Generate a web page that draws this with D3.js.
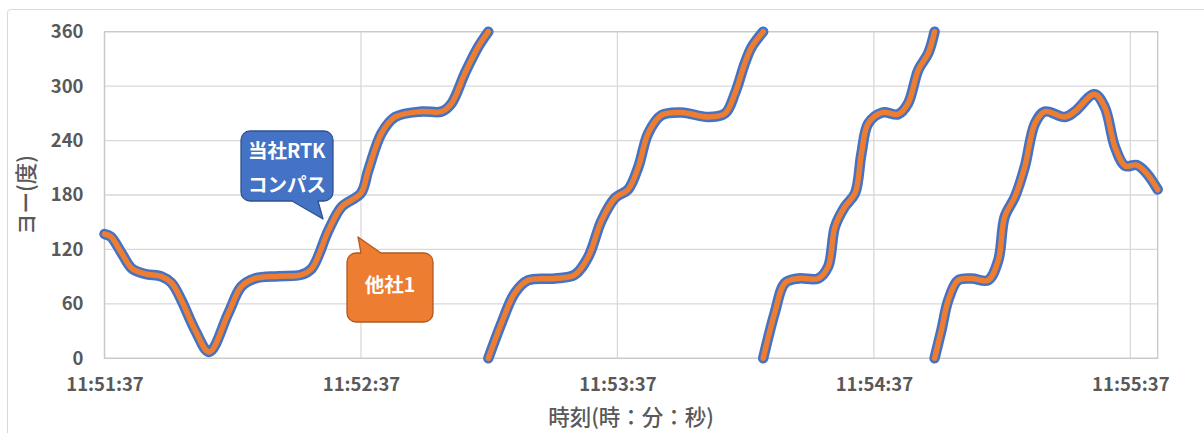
<!DOCTYPE html>
<html lang="ja">
<head>
<meta charset="utf-8">
<script src="https://cdn.jsdelivr.net/npm/d3@7"></script>
<style>
  html, body { margin: 0; padding: 0; background: #ffffff; }
  svg { display: block; }
  text { font-family: "Noto Sans CJK JP", "Noto Sans", sans-serif; }
</style>
</head>
<body>
<svg id="chart" width="1204" height="433"></svg>
<script>
// Elapsed seconds from 11:51:37; null marks the wrap from 360° back to 0°
const seconds = [
  0, 1.5, 4, 6.4, 9.5, 13.4, 15.7, 18, 21.2, 24.5, 29, 32, 35.2, 40.7, 46, 48.5,
  52.4, 55.5, 60, 61.7, 64.8, 68, 74.2, 78.9, 81.2, 84.3, 87.4, 89.8,
  89.8,
  89.8, 92.9, 96, 99.1, 105.4, 110, 113.2, 116.3, 119.5, 122.5, 124.9, 127.2,
  130.3, 135, 141.2, 145.2, 147.5, 149.8, 151.4, 154.1,
  154.1,
  154.1, 156.8, 159.2, 162.3, 167, 169.3, 170.9, 173.2, 175.6, 177.1, 178.7,
  182, 185.7, 188, 190.4, 192.7, 194.2,
  194.2,
  194.2, 195.8, 197.4, 199.7, 202.9, 206.7, 209.1, 210.6, 213, 215.3, 217.7,
  220, 224.7, 227, 231.6, 234, 236.4, 238.8, 241.5, 243.8, 246.4
];

// Yaw (degrees) — in-house RTK compass
const yawRtk = [
  137, 134, 116, 99, 93, 90, 83, 64, 31, 7, 50, 79, 88, 90.5, 92, 99,
  141, 167, 182, 207, 248, 266, 272, 272, 281, 314, 343, 360,
  null,
  0, 39, 72, 86, 88, 92, 112, 152, 177, 186, 211, 248,
  268, 271, 266, 270, 292, 325, 343, 360,
  null,
  0, 50, 83, 88, 88, 101, 145, 167, 182, 226, 259,
  271, 269, 281, 318, 336, 360,
  null,
  0, 31, 64, 86, 88, 86, 108, 156, 178, 211, 259,
  272, 266, 272, 291, 277, 233, 212, 213, 204, 186
];

// Yaw (degrees) — competitor unit 1
const yawOther = [
  137, 134, 116, 99, 93, 90, 83, 64, 31, 7, 50, 79, 88, 90.5, 92, 99,
  141, 167, 182, 207, 248, 266, 272, 272, 281, 314, 343, 360,
  null,
  0, 39, 72, 86, 88, 92, 112, 152, 177, 186, 211, 248,
  268, 271, 266, 270, 292, 325, 343, 360,
  null,
  0, 50, 83, 88, 88, 101, 145, 167, 182, 226, 259,
  271, 269, 281, 318, 336, 360,
  null,
  0, 31, 64, 86, 88, 86, 108, 156, 178, 211, 259,
  272, 266, 272, 291, 277, 233, 212, 213, 204, 186
];

const yTicks = [0, 60, 120, 180, 240, 300, 360];
const xTickSeconds = [0, 60, 120, 180, 240];
const startTime = new Date(2020, 0, 1, 11, 51, 37);
const xTitle = "時刻(時：分：秒)";
const yTitle = "ヨー(度)";
const calloutRtk = ["当社RTK", "コンパス"];
const calloutOther = ["他社1"];

const svg = d3.select("#chart");
const plot = { left: 104.5, right: 1157.7, top: 31.7, bottom: 358.3 };

const toDate = s => new Date(startTime.getTime() + s * 1000);
const x = d3.scaleTime()
  .domain([toDate(0), toDate(d3.max(seconds))])
  .range([plot.left, plot.right]);
const y = d3.scaleLinear().domain([0, 360]).range([plot.bottom, plot.top]);
const fmt = d3.timeFormat("%H:%M:%S");

// Chart frame
svg.append("rect")
  .attr("x", 7.5).attr("y", 9.5).attr("width", 1210).attr("height", 440)
  .attr("rx", 3)
  .attr("fill", "#ffffff").attr("stroke", "#d9d9d9").attr("stroke-width", 1);

// Gridlines
const grid = svg.append("g");
grid.selectAll("line.h").data(yTicks).join("line")
  .attr("class", "h")
  .attr("x1", plot.left).attr("x2", plot.right)
  .attr("y1", d => y(d)).attr("y2", d => y(d))
  .attr("stroke", "#d9d9d9").attr("stroke-width", 1.3);
grid.selectAll("line.v").data(xTickSeconds).join("line")
  .attr("class", "v")
  .attr("x1", d => x(toDate(d))).attr("x2", d => x(toDate(d)))
  .attr("y1", plot.top).attr("y2", plot.bottom)
  .attr("stroke", "#d9d9d9").attr("stroke-width", 1.3);

// Plot-area border
svg.append("rect")
  .attr("x", plot.left).attr("y", plot.top)
  .attr("width", plot.right - plot.left).attr("height", plot.bottom - plot.top)
  .attr("fill", "none").attr("stroke", "#c8c8c8").attr("stroke-width", 1.3);

// Axes (labels only, Excel-style)
const yAxis = d3.axisLeft(y).tickValues(yTicks).tickSize(0).tickPadding(0);
const gy = svg.append("g").attr("transform", `translate(${plot.left - 21},0)`).call(yAxis);
gy.select(".domain").remove();
gy.selectAll("text")
  .attr("fill", "#595959").attr("font-size", 18.5).attr("font-weight", 700)
  .style("font-family", '"Noto Sans CJK JP", sans-serif');

const xAxis = d3.axisBottom(x)
  .tickValues(xTickSeconds.map(toDate)).tickFormat(fmt)
  .tickSize(0).tickPadding(0);
const gx = svg.append("g").attr("transform", `translate(0,${plot.bottom + 20})`).call(xAxis);
gx.select(".domain").remove();
gx.selectAll("text")
  .attr("fill", "#595959").attr("font-size", 18.5).attr("font-weight", 700)
  .style("font-family", '"Noto Sans CJK JP", sans-serif');

// Axis titles
svg.append("text")
  .attr("x", (plot.left + plot.right) / 2).attr("y", 419)
  .attr("text-anchor", "middle").attr("dominant-baseline", "middle")
  .attr("fill", "#595959").attr("font-size", 21.5).attr("font-weight", 500)
  .text(xTitle);
svg.append("text")
  .attr("transform", `translate(28,${(plot.top + plot.bottom) / 2}) rotate(-90)`)
  .attr("text-anchor", "middle").attr("dominant-baseline", "middle")
  .attr("fill", "#595959").attr("font-size", 21.5).attr("font-weight", 500)
  .text(yTitle);

// Series lines
const line = vals => d3.line()
  .defined((d, i) => vals[i] !== null)
  .x(d => x(toDate(d)))
  .y((d, i) => y(vals[i]))
  .curve(d3.curveCatmullRom.alpha(0.5));

svg.append("path")
  .attr("d", line(yawRtk)(seconds))
  .attr("fill", "none").attr("stroke", "#4472c4").attr("stroke-width", 10.5)
  .attr("stroke-linecap", "round").attr("stroke-linejoin", "round");
svg.append("path")
  .attr("d", line(yawOther)(seconds))
  .attr("fill", "none").attr("stroke", "#ed7d31").attr("stroke-width", 5.5)
  .attr("stroke-linecap", "round").attr("stroke-linejoin", "round");

// Callouts
function callout(box, tail, fill, stroke, lines, textX, textY, lineGap, anchor) {
  const g = svg.append("g");
  const r = 9;
  const { x0, y0, x1, y1 } = box;
  // rounded rectangle with a pointer merged into one outline
  const p = d3.path();
  p.moveTo(x0 + r, y0);
  if (tail.side === "top") {
    p.lineTo(tail.a, y0); p.lineTo(tail.tx, tail.ty); p.lineTo(tail.b, y0);
  }
  p.lineTo(x1 - r, y0);
  p.arcTo(x1, y0, x1, y0 + r, r);
  p.lineTo(x1, y1 - r);
  p.arcTo(x1, y1, x1 - r, y1, r);
  if (tail.side === "bottom") {
    p.lineTo(tail.b, y1); p.lineTo(tail.tx, tail.ty); p.lineTo(tail.a, y1);
  }
  p.lineTo(x0 + r, y1);
  p.arcTo(x0, y1, x0, y1 - r, r);
  p.lineTo(x0, y0 + r);
  p.arcTo(x0, y0, x0 + r, y0, r);
  p.closePath();
  g.append("path").attr("d", p.toString())
    .attr("fill", fill).attr("stroke", stroke).attr("stroke-width", 1.3)
    .attr("stroke-linejoin", "round");
  lines.forEach((t, i) => {
    g.append("text")
      .attr("x", textX).attr("y", textY + i * lineGap)
      .attr("text-anchor", anchor).attr("dominant-baseline", "middle")
      .attr("fill", "#ffffff").attr("font-size", 19.5).attr("font-weight", 700)
      .text(t);
  });
}

callout({ x0: 241, y0: 131, x1: 333, y1: 201 },
  { side: "bottom", a: 292, b: 318, tx: 323, ty: 219 },
  "#4472c4", "#2f528f", calloutRtk, 248, 153, 34, "start");
callout({ x0: 347, y0: 253, x1: 433, y1: 322 },
  { side: "top", a: 361, b: 381, tx: 358, ty: 237 },
  "#ed7d31", "#ae5a21", calloutOther, 390, 287, 0, "middle");
</script>
</body>
</html>
